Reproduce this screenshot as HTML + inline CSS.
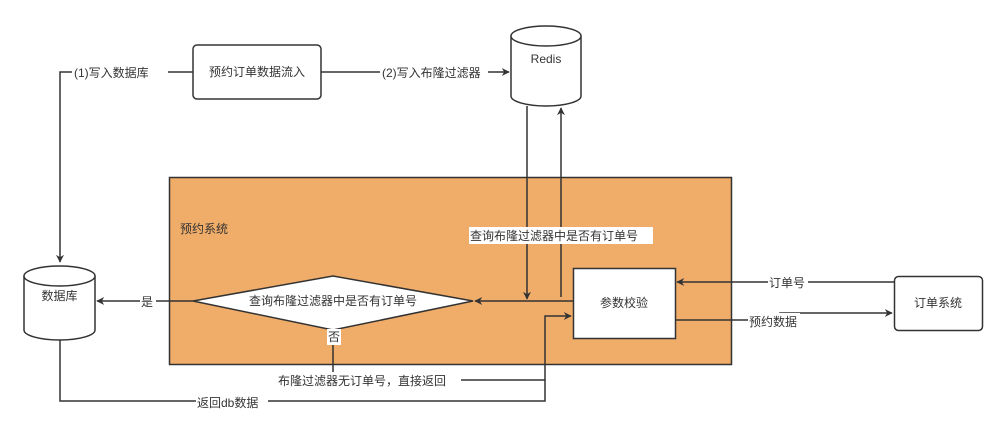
<!DOCTYPE html>
<html><head><meta charset="utf-8"><style>
html,body{margin:0;padding:0;background:#fff;}
svg{display:block;}
text{font-family:"Liberation Sans","Noto Sans CJK SC",sans-serif;font-size:12px;fill:#333;}
</style></head><body>
<svg width="1005" height="434" viewBox="0 0 1005 434" xmlns="http://www.w3.org/2000/svg">
<defs>
<marker id="a" viewBox="0 0 10 10" refX="9" refY="5" markerWidth="8" markerHeight="8" orient="auto" markerUnits="userSpaceOnUse">
<path d="M0,0 L10,5 L0,10 L3,5 z" fill="#333"/></marker>
</defs>
<!-- orange system box -->
<rect x="169.5" y="177.5" width="562" height="187" fill="#F0AC69" stroke="#333" stroke-width="1.5"/>
<text x="180" y="233">预约系统</text>

<g fill="none" stroke="#333" stroke-width="1.5">
<!-- (1) to DB -->
<polyline points="193,72 60,72 60,262" marker-end="url(#a)"/>
<!-- (2) to redis -->
<line x1="321" y1="72" x2="509" y2="72" marker-end="url(#a)"/>
<!-- redis down -->
<line x1="527" y1="106" x2="527" y2="299" marker-end="url(#a)"/>
<!-- up to redis -->
<line x1="561" y1="297" x2="561" y2="108" marker-end="url(#a)"/>
<!-- param to diamond -->
<line x1="573" y1="301" x2="475" y2="301" marker-end="url(#a)"/>
<!-- yes to DB -->
<line x1="193" y1="301" x2="97" y2="301" marker-end="url(#a)"/>
<!-- no path -->
<polyline points="333,330 333,380 545,380 545,316 571,316" marker-end="url(#a)"/>
<!-- db return -->
<polyline points="60,340 60,401 545,401 545,380"/>
<!-- order no -->
<line x1="894" y1="282" x2="677" y2="282" marker-end="url(#a)"/>
<!-- reserve data -->
<polyline points="675,320 780,320 780,313 892,313" marker-end="url(#a)"/>
</g>

<!-- box 预约订单数据流入 -->
<rect x="193" y="45" width="128" height="54" rx="4" fill="#fff" stroke="#333" stroke-width="1.5"/>
<text x="257" y="76" text-anchor="middle">预约订单数据流入</text>

<!-- Redis cylinder -->
<path d="M511,36 L511,96 A35,10 0 0 0 581,96 L581,36" fill="#fff" stroke="#333" stroke-width="1.5"/>
<ellipse cx="546" cy="36" rx="35" ry="10" fill="#fff" stroke="#333" stroke-width="1.5"/>
<text x="546" y="63" text-anchor="middle">Redis</text>

<!-- DB cylinder -->
<path d="M24,276 L24,330 A35.5,10 0 0 0 95,330 L95,276" fill="#fff" stroke="#333" stroke-width="1.5"/>
<ellipse cx="59.5" cy="276" rx="35.5" ry="10" fill="#fff" stroke="#333" stroke-width="1.5"/>
<text x="59.5" y="300" text-anchor="middle">数据库</text>

<!-- diamond -->
<polygon points="193,301 333,276 473,301 333,330" fill="#fff" stroke="#333" stroke-width="1.5"/>
<text x="333" y="305" text-anchor="middle">查询布隆过滤器中是否有订单号</text>

<!-- param box -->
<rect x="573.5" y="268.5" width="102" height="70" fill="#fff" stroke="#333" stroke-width="1.5"/>
<text x="624" y="307" text-anchor="middle">参数校验</text>

<!-- order system -->
<rect x="894.5" y="276.5" width="88" height="54" rx="4" fill="#fff" stroke="#333" stroke-width="1.5"/>
<text x="938" y="307" text-anchor="middle">订单系统</text>

<!-- labels -->
<rect x="72" y="64" width="96" height="16" fill="#fff"/>
<text x="74" y="77">(1)写入数据库</text>
<rect x="380" y="64" width="108" height="16" fill="#fff"/>
<text x="382" y="77">(2)写入布隆过滤器</text>
<rect x="469" y="227" width="184" height="17" fill="#fff"/>
<text x="470" y="240">查询布隆过滤器中是否有订单号</text>
<rect x="140" y="293" width="16" height="16" fill="#fff"/>
<text x="141" y="306">是</text>
<rect x="327" y="329" width="14" height="16" fill="#fff"/>
<text x="328" y="341">否</text>
<rect x="277" y="372" width="184" height="16" fill="#fff"/>
<text x="278" y="385">布隆过滤器无订单号，直接返回</text>
<rect x="196" y="394" width="72" height="16" fill="#fff"/>
<text x="197" y="407">返回db数据</text>
<rect x="768" y="274" width="40" height="16" fill="#fff"/>
<text x="769" y="287">订单号</text>
<rect x="748" y="313" width="52" height="16" fill="#fff"/>
<text x="749" y="326">预约数据</text>
</svg>
</body></html>
